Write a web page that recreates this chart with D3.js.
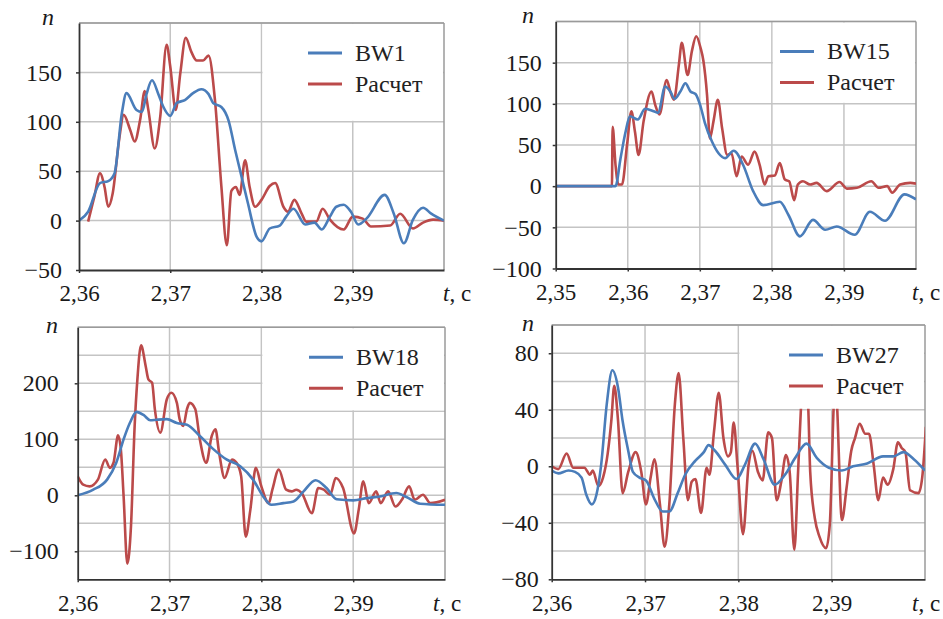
<!DOCTYPE html>
<html lang="ru">
<head>
<meta charset="UTF-8">
<title>BW1 / BW15 / BW18 / BW27 — Расчет</title>
<script src="https://d3js.org/d3.v7.min.js"></script>
<style>
  html, body { margin: 0; padding: 0; background: #fff; }
  svg { display: block; }
  svg text { font-family: "Liberation Serif", serif; }
</style>
</head>
<body>
<svg id="chart" width="943" height="619"></svg>
<script>
// ---- data: [t (s), n] ----
const bw1 = [[2.3600,0],[2.3610,9],[2.3623,38],[2.3632,40],[2.3639,48],[2.3647,109],[2.3652,129],[2.3663,112],[2.3669,110],[2.3674,128],[2.3680,142],[2.3687,128],[2.3692,116],[2.3700,106],[2.3707,119],[2.3716,122],[2.3725,129],[2.3734,133],[2.3742,128],[2.3747,119],[2.3756,115],[2.3764,101],[2.3771,72],[2.3778,45],[2.3785,18],[2.3795,-17],[2.3800,-21],[2.3809,-8],[2.3820,-5],[2.3827,4],[2.3835,12],[2.3848,-4],[2.3858,-2],[2.3866,-9],[2.3875,4],[2.3882,14],[2.3890,16],[2.3898,9],[2.3906,-4],[2.3915,2],[2.3935,26],[2.3945,7],[2.3956,-23],[2.3966,1],[2.3977,13],[2.3986,7],[2.4000,0]];
const calc1 = [[2.3610,-1],[2.3617,25],[2.3623,48],[2.3628,34],[2.3632,14],[2.3637,28],[2.3644,82],[2.3649,107],[2.3656,92],[2.3661,80],[2.3667,102],[2.3672,131],[2.3676,112],[2.3683,73],[2.3689,105],[2.3696,178],[2.3700,156],[2.3706,112],[2.3711,149],[2.3717,185],[2.3723,171],[2.3729,162],[2.3736,162],[2.3742,167],[2.3749,122],[2.3756,35],[2.3762,-25],[2.3767,30],[2.3772,34],[2.3776,26],[2.3782,61],[2.3787,34],[2.3793,14],[2.3800,21],[2.3809,35],[2.3815,38],[2.3824,14],[2.3829,9],[2.3836,21],[2.3844,7],[2.3849,-1],[2.3860,-1],[2.3867,12],[2.3875,1],[2.3890,-9],[2.3900,4],[2.3911,2],[2.3920,-6],[2.3941,-5],[2.3952,7],[2.3966,-8],[2.3977,-2],[2.3988,1],[2.4000,0]];

const bw15 = [[2.3500,0],[2.3583,0],[2.3590,34],[2.3597,66],[2.3603,85],[2.3614,81],[2.3624,94],[2.3636,91],[2.3642,89],[2.3652,121],[2.3659,115],[2.3665,106],[2.3673,115],[2.3680,125],[2.3687,115],[2.3694,112],[2.3701,97],[2.3707,77],[2.3717,54],[2.3726,40],[2.3735,34],[2.3747,43],[2.3760,26],[2.3774,-6],[2.3788,-23],[2.3811,-19],[2.3823,-35],[2.3839,-61],[2.3857,-41],[2.3874,-53],[2.3890,-49],[2.3915,-59],[2.3936,-31],[2.3957,-42],[2.3984,-10],[2.4000,-16]];
const calc15 = [[2.3500,0],[2.3578,0],[2.3579,72],[2.3583,26],[2.3587,2],[2.3592,2],[2.3599,50],[2.3605,91],[2.3610,66],[2.3615,38],[2.3622,79],[2.3633,115],[2.3638,99],[2.3644,87],[2.3654,129],[2.3659,115],[2.3664,105],[2.3671,148],[2.3675,174],[2.3683,135],[2.3689,164],[2.3695,182],[2.3701,168],[2.3705,152],[2.3710,111],[2.3714,58],[2.3719,79],[2.3725,105],[2.3731,70],[2.3738,38],[2.3744,40],[2.3751,12],[2.3758,36],[2.3767,26],[2.3776,42],[2.3783,26],[2.3790,2],[2.3795,12],[2.3804,13],[2.3811,28],[2.3818,8],[2.3824,6],[2.3831,-17],[2.3836,2],[2.3843,6],[2.3853,2],[2.3862,4],[2.3876,-6],[2.3894,5],[2.3904,-3],[2.3918,-2],[2.3938,6],[2.3948,-2],[2.3960,0],[2.3967,-8],[2.3978,2],[2.3992,4],[2.4000,3]];

const bw18 = [[2.3600,0],[2.3617,10],[2.3632,28],[2.3642,58],[2.3650,100],[2.3657,130],[2.3664,149],[2.3672,143],[2.3679,134],[2.3686,135],[2.3697,136],[2.3708,129],[2.3719,126],[2.3733,106],[2.3748,82],[2.3762,64],[2.3777,52],[2.3791,28],[2.3802,-2],[2.3811,-17],[2.3824,-14],[2.3835,-11],[2.3846,7],[2.3859,27],[2.3871,13],[2.3882,-7],[2.3900,-9],[2.3915,-5],[2.3929,-2],[2.3947,4],[2.3958,-3],[2.3973,-15],[2.4000,-17]];
const calc18 = [[2.3600,34],[2.3606,19],[2.3613,16],[2.3622,28],[2.3630,64],[2.3635,49],[2.3639,58],[2.3644,107],[2.3647,82],[2.3650,-2],[2.3654,-122],[2.3658,-56],[2.3662,123],[2.3665,207],[2.3669,268],[2.3674,231],[2.3677,207],[2.3681,201],[2.3684,154],[2.3690,112],[2.3697,171],[2.3702,183],[2.3708,165],[2.3711,136],[2.3715,124],[2.3719,154],[2.3722,165],[2.3728,154],[2.3733,100],[2.3740,58],[2.3746,106],[2.3750,118],[2.3754,76],[2.3760,31],[2.3768,64],[2.3773,58],[2.3778,34],[2.3783,-74],[2.3788,-26],[2.3794,49],[2.3800,16],[2.3808,-14],[2.3812,10],[2.3819,46],[2.3827,10],[2.3833,7],[2.3838,10],[2.3844,4],[2.3855,-32],[2.3862,13],[2.3868,10],[2.3875,1],[2.3881,31],[2.3889,13],[2.3901,-68],[2.3906,-26],[2.3911,25],[2.3917,-14],[2.3925,7],[2.3930,-14],[2.3938,7],[2.3946,-20],[2.3953,-8],[2.3961,16],[2.3967,-8],[2.3976,1],[2.3984,-14],[2.4000,-8]];

const bw27 = [[2.3600,-3],[2.3607,-5],[2.3618,-3],[2.3625,-4],[2.3632,-8],[2.3637,-20],[2.3643,-27],[2.3648,-20],[2.3653,1],[2.3659,44],[2.3665,68],[2.3671,56],[2.3676,32],[2.3682,11],[2.3687,-4],[2.3694,-8],[2.3701,-10],[2.3710,-23],[2.3719,-32],[2.3726,-32],[2.3735,-19],[2.3743,-6],[2.3754,4],[2.3763,10],[2.3768,15],[2.3775,11],[2.3786,1],[2.3798,-9],[2.3807,1],[2.3818,16],[2.3827,5],[2.3839,-13],[2.3850,-6],[2.3861,6],[2.3873,16],[2.3884,6],[2.3897,-1],[2.3911,-3],[2.3923,0],[2.3938,2],[2.3955,7],[2.3966,7],[2.3977,10],[2.3988,5],[2.4000,-3]];
const calc27 = [[2.3600,0],[2.3607,-2],[2.3616,9],[2.3623,-1],[2.3635,-1],[2.3641,-6],[2.3644,-3],[2.3650,-14],[2.3655,-8],[2.3660,9],[2.3664,33],[2.3667,57],[2.3671,33],[2.3676,-19],[2.3682,-4],[2.3690,10],[2.3696,-4],[2.3701,-27],[2.3706,-8],[2.3710,5],[2.3716,-27],[2.3721,-57],[2.3726,-27],[2.3732,44],[2.3736,66],[2.3741,20],[2.3746,-24],[2.3750,-11],[2.3754,-9],[2.3760,-33],[2.3766,-1],[2.3769,-6],[2.3774,25],[2.3779,52],[2.3784,20],[2.3789,7],[2.3792,10],[2.3795,31],[2.3799,1],[2.3805,-48],[2.3811,1],[2.3815,11],[2.3821,-4],[2.3826,-10],[2.3832,24],[2.3836,20],[2.3841,-24],[2.3846,-11],[2.3851,8],[2.3855,-4],[2.3860,-59],[2.3864,-4],[2.3867,40],[2.3871,75],[2.3875,40],[2.3877,-4],[2.3882,-37],[2.3887,-50],[2.3894,-58],[2.3898,-41],[2.3902,40],[2.3904,70],[2.3906,40],[2.3911,-38],[2.3916,-15],[2.3921,11],[2.3925,20],[2.3930,30],[2.3936,23],[2.3940,23],[2.3945,1],[2.3950,-24],[2.3955,-8],[2.3960,-13],[2.3966,-2],[2.3971,17],[2.3975,13],[2.3979,10],[2.3984,-17],[2.3993,-19],[2.3997,-8],[2.4001,28]];

// ---- axes: tick values ----
const tTicks1 = [2.36, 2.37, 2.38, 2.39];
const tTicks2 = [2.35, 2.36, 2.37, 2.38, 2.39];
const nTicks1 = [-50, 0, 50, 100, 150];
const nTicks2 = [-100, -50, 0, 50, 100, 150];
const nTicks3 = [-100, 0, 100, 200];
const nTicks4 = [-80, -40, 0, 40, 80];

const seriesNames = ["BW1", "BW15", "BW18", "BW27"];
const calcName = "Расчет";

// ---- layout for the four panels ----
const panels = [
  { label: seriesNames[0], meas: bw1,  calc: calc1,  tDom: [2.36, 2.40], nDom: [-50, 200],  tTicks: tTicks1, nTicks: nTicks1, grid: 50, boxTo: 100,
    left: 79,    right: 444, top: 23,    bottom: 270,   yPad: 14, nPos: [48, 25],    tLab: -1 },
  { label: seriesNames[1], meas: bw15, calc: calc15, tDom: [2.35, 2.40], nDom: [-100, 200], tTicks: tTicks2, nTicks: nTicks2, grid: 50, boxTo: 100,
    left: 555.7, right: 916, top: 21.5,  bottom: 268.5, yPad: 11, nPos: [528, 23],   tLab: -4 },
  { label: seriesNames[2], meas: bw18, calc: calc18, tDom: [2.36, 2.40], nDom: [-150, 300], tTicks: tTicks1, nTicks: nTicks3, grid: 50, boxTo: 150,
    left: 77.7,  right: 445, top: 327.3, bottom: 579.3, yPad: 16, nPos: [52, 333],   tLab: -12 },
  { label: seriesNames[3], meas: bw27, calc: calc27, tDom: [2.36, 2.40], nDom: [-80, 100],  tTicks: tTicks1, nTicks: nTicks4, grid: 20, boxTo: 40,
    left: 551.7, right: 925, top: 325,   bottom: 579.3, yPad: 10, nPos: [528, 331],  tLab: -13 }
];

const blue = "#4a7dba", red = "#bb4a4a", gridColor = "#c4c4c4", axisColor = "#333";
const serif = "'Liberation Serif', serif";

const loc = d3.formatLocale({ decimal: ",", thousands: "\u00a0", grouping: [3], currency: ["", ""], minus: "\u2212" });
const tFmt = loc.format(".2f");
const nFmt = loc.format("d");

const svg = d3.select("#chart");

panels.forEach((p, i) => {
  const x = d3.scaleLinear().domain(p.tDom).range([p.left, p.right]);
  const y = d3.scaleLinear().domain(p.nDom).range([p.bottom, p.top]);
  const g = svg.append("g");

  // clip for the curves
  g.append("clipPath").attr("id", "clip" + i)
    .append("rect")
    .attr("x", p.left).attr("y", p.top)
    .attr("width", p.right - p.left).attr("height", p.bottom - p.top);

  // horizontal grid
  const hLines = d3.range(p.nDom[0] + p.grid, p.nDom[1] + 0.001, p.grid);
  g.selectAll(".hgrid").data(hLines).join("line")
    .attr("x1", p.left).attr("x2", p.right)
    .attr("y1", d => y(d)).attr("y2", d => y(d))
    .attr("stroke", gridColor).attr("stroke-width", 1.5);

  // vertical grid (interior ticks and right border)
  const vLines = p.tTicks.slice(1).concat([p.tDom[1]]);
  g.selectAll(".vgrid").data(vLines).join("line")
    .attr("x1", d => x(d)).attr("x2", d => x(d))
    .attr("y1", p.top).attr("y2", p.bottom)
    .attr("stroke", d => d === p.tDom[1] ? "#9a9a9a" : gridColor).attr("stroke-width", 1.5);

  // curves
  const line = d3.line()
    .x(d => x(d[0])).y(d => y(d[1]))
    .curve(d3.curveMonotoneX);

  const curves = g.append("g").attr("clip-path", `url(#clip${i})`);
  curves.append("path").datum(p.calc)
    .attr("d", line).attr("fill", "none")
    .attr("stroke", red).attr("stroke-width", 2.6).attr("stroke-linejoin", "round");
  curves.append("path").datum(p.meas)
    .attr("d", line).attr("fill", "none")
    .attr("stroke", blue).attr("stroke-width", 2.6).attr("stroke-linejoin", "round");

  // legend box (white, hides grid and curves)
  const bx0 = x(p.tTicks[p.tTicks.length - 1] - 0.01) + 1;
  g.append("rect")
    .attr("x", bx0).attr("y", p.top + 1)
    .attr("width", p.right - 1 - bx0).attr("height", y(p.boxTo) - 1 - p.top - 1)
    .attr("fill", "#fff");

  const legendItems = [{ name: p.label, color: blue }, { name: calcName, color: red }];
  const lg = g.selectAll(".leg").data(legendItems).join("g")
    .attr("transform", (d, k) => `translate(${p.right - 122},${p.top + 30 + k * 31})`);
  lg.append("line")
    .attr("x1", -14).attr("x2", 20)
    .attr("stroke", d => d.color).attr("stroke-width", 3);
  lg.append("text")
    .attr("x", 33).attr("dy", "0.33em")
    .attr("fill", "#222").style("font-size", "24px").style("font-family", serif)
    .text(d => d.name);

  // top border
  g.append("line")
    .attr("x1", p.left).attr("x2", p.right)
    .attr("y1", p.top).attr("y2", p.top)
    .attr("stroke", "#9a9a9a").attr("stroke-width", 1.5);

  // axes
  const yAxis = g.append("g")
    .attr("transform", `translate(${p.left},0)`)
    .call(d3.axisLeft(y).tickValues(p.nTicks).tickFormat(nFmt).tickSize(3).tickPadding(p.yPad).tickSizeOuter(0));
  const xAxis = g.append("g")
    .attr("transform", `translate(0,${p.bottom})`)
    .call(d3.axisBottom(x).tickValues(p.tTicks).tickFormat(tFmt).tickSize(3).tickPadding(12).tickSizeOuter(0));

  [yAxis, xAxis].forEach(ax => {
    ax.attr("font-family", null);
    ax.select(".domain").attr("stroke", axisColor).attr("stroke-width", 1.8);
    ax.selectAll(".tick line").attr("stroke", axisColor).attr("stroke-width", 1.5);
    ax.selectAll("text").attr("fill", "#1a1a1a").style("font-family", serif);
  });
  yAxis.selectAll("text").style("font-size", "24px");
  xAxis.selectAll("text").style("font-size", "23px");

  // axis titles
  g.append("text")
    .attr("x", p.nPos[0]).attr("y", p.nPos[1])
    .attr("text-anchor", "middle")
    .style("font-size", "24px").style("font-style", "italic").style("font-family", serif)
    .attr("fill", "#1a1a1a")
    .text("n");

  const tt = g.append("text")
    .attr("x", p.right + p.tLab).attr("y", p.bottom + 12 + 3)
    .attr("dy", "0.71em")
    .style("font-size", "23px").style("font-family", serif).attr("fill", "#1a1a1a");
  tt.append("tspan").style("font-style", "italic").text("t");
  tt.append("tspan").text(", с");
});
</script>
</body>
</html>
